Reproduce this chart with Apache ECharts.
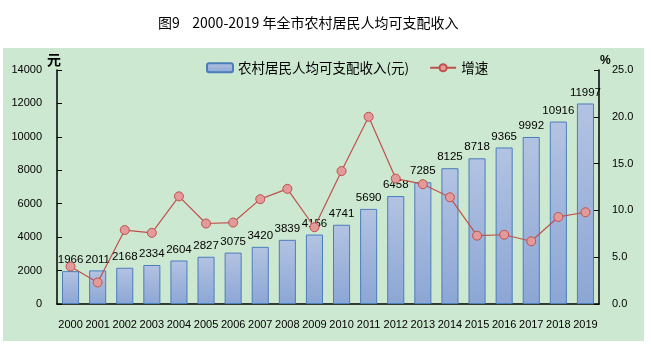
<!DOCTYPE html>
<html>
<head>
<meta charset="utf-8">
<script src="https://cdn.jsdelivr.net/npm/echarts@6/dist/echarts.min.js"></script>
<style>
  html, body { margin: 0; padding: 0; background: #fff; }
  #chart { width: 651px; height: 352px; }
</style>
</head>
<body>
<div id="chart"></div>
<script>
const years = ["2000", "2001", "2002", "2003", "2004", "2005", "2006", "2007", "2008", "2009",
  "2010", "2011", "2012", "2013", "2014", "2015", "2016", "2017", "2018", "2019"];
const income = [1966, 2011, 2168, 2334, 2604, 2827, 3075, 3420, 3839, 4156,
  4741, 5690, 6458, 7285, 8125, 8718, 9365, 9992, 10916, 11997];
const growth = [4.0, 2.3, 7.9, 7.6, 11.5, 8.6, 8.7, 11.2, 12.3, 8.2,
  14.2, 20.0, 13.4, 12.8, 11.4, 7.3, 7.4, 6.7, 9.3, 9.8];

const font = "'Liberation Sans', Arial, sans-serif";
const cjk = "'Noto Sans CJK SC', sans-serif";

const chart = echarts.init(document.getElementById("chart"));
chart.setOption({
  animation: false,
  title: {
    text: "图9    2000-2019 年全市农村居民人均可支配收入",
    left: 153,
    top: 11,
    textStyle: { fontSize: 14, fontWeight: "normal", color: "#000", fontFamily: cjk }
  },
  graphic: [{
    type: "rect",
    z: -10,
    shape: { x: 3, y: 48, width: 641, height: 293 },
    style: { fill: "#CDE8D0" }
  }, {
    type: "text",
    left: 47, top: 53,
    style: { text: "元", fontSize: 14, fontWeight: "bold", fill: "#000", fontFamily: cjk }
  }, {
    type: "text",
    left: 600, top: 55,
    style: { text: "%", fontSize: 12, fontWeight: "bold", fill: "#000", fontFamily: font }
  }],
  legend: {
    top: 56,
    left: 201,
    itemGap: 20,
    itemWidth: 26,
    itemHeight: 9,
    textStyle: { fontSize: 13.5, color: "#000", fontFamily: cjk },
    data: ["农村居民人均可支配收入(元)", "增速"]
  },
  grid: { left: 57, right: 52, top: 70, bottom: 48 },
  xAxis: {
    type: "category",
    data: years,
    axisLine: { lineStyle: { color: "#000", width: 1.5 } },
    axisTick: { inside: true, length: 5, lineStyle: { color: "#000" } },
    axisLabel: { interval: 0, color: "#000", fontSize: 11, margin: 15, fontFamily: font }
  },
  yAxis: [{
    type: "value",
    min: 0, max: 14000, interval: 2000,
    axisLine: { show: true, lineStyle: { color: "#000", width: 1.5 } },
    axisTick: { show: true, inside: true, length: 5, lineStyle: { color: "#000" } },
    splitLine: { show: false },
    axisLabel: { color: "#000", fontSize: 11, margin: 15, fontFamily: font, formatter: v => String(v) }
  }, {
    type: "value",
    min: 0, max: 25, interval: 5,
    axisLine: { show: true, lineStyle: { color: "#000", width: 1.5 } },
    axisTick: { show: true, inside: true, length: 5, lineStyle: { color: "#000" } },
    splitLine: { show: false },
    axisLabel: { color: "#000", fontSize: 11, margin: 13, fontFamily: font, formatter: v => v.toFixed(1) }
  }],
  series: [{
    name: "农村居民人均可支配收入(元)",
    type: "bar",
    data: income,
    barWidth: "63%",
    itemStyle: {
      color: new echarts.graphic.LinearGradient(0, 0, 0, 1, [
        { offset: 0, color: "#B3C3E2" },
        { offset: 1, color: "#8CA6D5" }
      ]),
      borderColor: "#4A7EBB",
      borderWidth: 1
    },
    label: { show: true, position: "top", distance: 5, color: "#000", fontSize: 11.5, fontFamily: font }
  }, {
    name: "增速",
    type: "line",
    yAxisIndex: 1,
    data: growth,
    symbol: "circle",
    symbolSize: 9,
    lineStyle: { color: "#C0504D", width: 1.2 },
    itemStyle: { color: "#E39A9A", borderColor: "#C0504D", borderWidth: 1 }
  }]
});
</script>
</body>
</html>
